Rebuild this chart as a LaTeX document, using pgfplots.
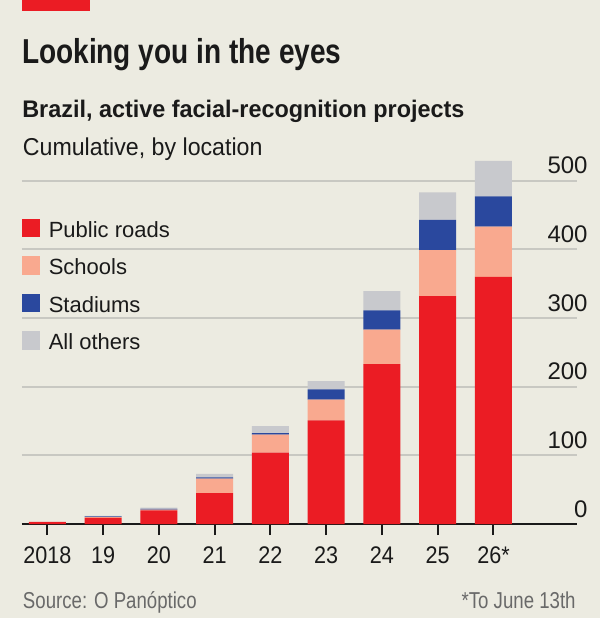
\documentclass[border=0pt]{standalone}
\usepackage{fontspec}
\usepackage{pgfplots}
\pgfplotsset{compat=1.18}
\setmainfont{Liberation Sans}
\newfontfamily\headfont[FakeStretch=0.81]{Liberation Sans}
\newfontfamily\subfont[FakeStretch=0.975]{Liberation Sans}
\newfontfamily\linefont[FakeStretch=0.95]{Liberation Sans}
\newfontfamily\srcfont[FakeStretch=0.81]{Liberation Sans}
\newfontfamily\xtickfont[FakeStretch=0.9]{Liberation Sans}

\definecolor{bg}{RGB}{236,235,225}
\definecolor{ink}{RGB}{26,26,26}
\definecolor{srcgrey}{RGB}{105,105,105}
\definecolor{gridcol}{RGB}{200,200,194}
\definecolor{roads}{RGB}{235,28,36}
\definecolor{schools}{RGB}{249,169,143}
\definecolor{stadiums}{RGB}{42,72,158}
\definecolor{others}{RGB}{200,201,205}

% Cumulative active projects, by location (2018 ... June 2026)
\pgfplotstableread{
x roads schools stadiums others
0   3    0    0    0
1   9    1    1    1
2  20    1    1    2
3  45   21    2    5
4 104   26  2.5   10
5 151   30   15   12
6 233   50   28   28
7 332   67   44   40
8 360   73   44   52
}\projects

\begin{document}
\begin{tikzpicture}
\fill[bg] (0,0) rectangle (300pt,-309pt);
\fill[roads] (11pt,0) rectangle (45pt,-5.5pt);

\node[anchor=base west, inner sep=0pt, text=ink,
  font=\headfont\bfseries\fontsize{17.3}{20}\selectfont]
  at (10.85pt,-31.5pt) {Looking you in the eyes};
\node[anchor=base west, inner sep=0pt, text=ink,
  font=\subfont\bfseries\fontsize{12}{14}\selectfont]
  at (10.95pt,-58.75pt) {Brazil, active facial-recognition projects};
\node[anchor=base west, inner sep=0pt, text=ink,
  font=\linefont\fontsize{12.2}{14}\selectfont]
  at (11.25pt,-77.5pt) {Cumulative, by location};

\begin{axis}[
  at={(11pt,-262pt)}, anchor=south west,
  scale only axis, width=277.5pt, height=185.4pt,
  xmin=-0.457, xmax=9.498, ymin=0, ymax=540,
  enlargelimits=false,
  ybar stacked, bar width=18.5pt,
  axis line style={draw=none},
  xtick={0,...,8},
  xticklabels={2018,19,20,21,22,23,24,25,26*},
  xtick pos=left, tick align=outside, major tick length=5.5pt,
  xtick style={ink, line width=1pt},
  ytick={0,100,...,500}, ytick pos=right, yticklabel pos=right,
  ytick style={draw=none},
  ymajorgrids, major grid style={gridcol, line width=0.9pt},
  /pgf/number format/assume math mode=true,
  xticklabel style={font=\xtickfont\fontsize{12}{14}\selectfont, text=ink,
    anchor=base, yshift=-14pt},
  yticklabel style={font=\fontsize{12}{14}\selectfont, text=ink,
    anchor=base east, inner sep=0pt, yshift=3.5pt},
  legend style={at={(0,0.8233)}, anchor=north west, draw=none, fill=none,
    inner sep=0pt, outer sep=0pt, row sep=9.5pt, column sep=4.15pt,
    nodes={inner sep=0pt, text height=8pt, text depth=0pt},
    font=\fontsize{11}{13}\selectfont, text=ink},
  legend cell align=left,
  legend image code/.code={\fill[#1, draw=none] (0pt,-4pt) rectangle (9.25pt,5.25pt);},
]
\addplot[fill=roads, draw=none] table[x=x, y=roads] {\projects};
\addplot[fill=schools, draw=none] table[x=x, y=schools] {\projects};
\addplot[fill=stadiums, draw=none] table[x=x, y=stadiums] {\projects};
\addplot[fill=others, draw=none] table[x=x, y=others] {\projects};
\legend{Public roads, Schools, Stadiums, All others}
\draw[ink, line width=1pt] (axis cs:-0.457,0) -- (axis cs:9.498,0);
\end{axis}

\node[anchor=base west, inner sep=0pt, text=srcgrey,
  font=\srcfont\fontsize{11.5}{13}\selectfont]
  at (11.3pt,-304pt) {Source: O Panóptico};
\node[anchor=base east, inner sep=0pt, text=srcgrey,
  font=\srcfont\fontsize{11.5}{13}\selectfont]
  at (288pt,-304pt) {*To June 13th};

\pgfresetboundingbox
\useasboundingbox (0,0) rectangle (300pt,-309pt);
\end{tikzpicture}
\end{document}
